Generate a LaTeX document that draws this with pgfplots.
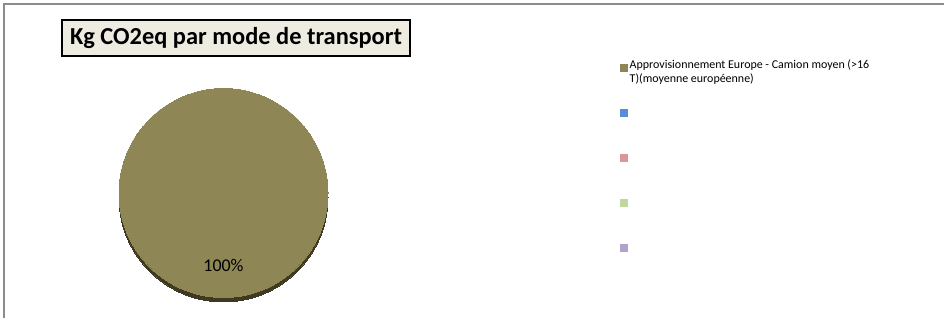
\documentclass[border=0pt]{standalone}
\usepackage{pgfplots}
\pgfplotsset{compat=1.18}
\usepackage{fontspec}
\setmainfont{Carlito}
\definecolor{pieolive}{RGB}{142,134,84}
\definecolor{pierim}{RGB}{62,57,33}
\definecolor{titlebg}{RGB}{238,236,225}
\definecolor{legblue}{RGB}{85,142,213}
\definecolor{legred}{RGB}{217,150,148}
\definecolor{leggreen}{RGB}{195,214,155}
\definecolor{legpurple}{RGB}{179,162,199}
\definecolor{framegray}{RGB}{140,140,140}
\begin{document}
\begin{tikzpicture}
\begin{axis}[
  width=944bp, height=318bp, scale only axis,
  xmin=0, xmax=944, ymin=0, ymax=318,
  axis lines=none, clip=false,
]
\coordinate (sw) at (axis cs:0,0);
\coordinate (ne) at (axis cs:944,318);
% frame (top and left edges)
\draw[framegray, line width=1.2bp] (axis cs:4,0) -- (axis cs:4,314) -- (axis cs:944,314);
% title
\node[draw=black, line width=1.2bp, fill=titlebg, inner xsep=2bp, inner ysep=2bp,
      font=\fontsize{24.5}{28}\selectfont\bfseries, minimum width=348bp, minimum height=36bp]
      at (axis cs:236,280) {Kg CO2eq par mode de transport};
% pie: one slice, 100 %
\addplot[only marks, mark=*, mark size=104.5bp, mark options={fill=pierim, draw=pierim, line width=0pt}] coordinates {(223.5,120.5)};
\addplot[only marks, mark=*, mark size=104.5bp, mark options={fill=pieolive, draw=pieolive, line width=0pt},
  point meta=explicit symbolic, nodes near coords,
  every node near coord/.append style={anchor=center, yshift=-72bp, text=black, font=\fontsize{18}{20}\selectfont}]
  coordinates {(223.5,125) [100\%]};
% legend markers
\addplot[only marks, mark=square*, mark size=3.5bp, mark options={fill=pieolive, draw=pieolive}] coordinates {(623.5,250.5)};
\addplot[only marks, mark=square*, mark size=3.5bp, mark options={fill=legblue, draw=legblue}] coordinates {(623.5,205.5)};
\addplot[only marks, mark=square*, mark size=3.5bp, mark options={fill=legred, draw=legred}] coordinates {(623.5,160.5)};
\addplot[only marks, mark=square*, mark size=3.5bp, mark options={fill=leggreen, draw=leggreen}] coordinates {(623.5,115.5)};
\addplot[only marks, mark=square*, mark size=3.5bp, mark options={fill=legpurple, draw=legpurple}] coordinates {(623.5,70.5)};
\node[anchor=north west, align=left, inner sep=0pt, font=\fontsize{12}{14}\selectfont]
  at (axis cs:629.5,258) {Approvisionnement Europe - Camion moyen (>16\\T)(moyenne européenne)};
\end{axis}
\pgfresetboundingbox
\path[use as bounding box] (sw) rectangle (ne);
\end{tikzpicture}
\end{document}
